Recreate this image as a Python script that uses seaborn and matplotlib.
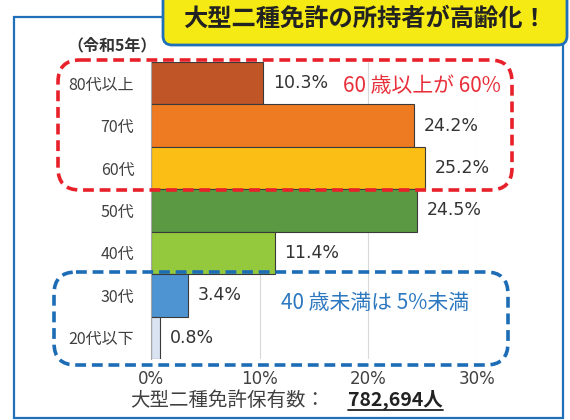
import matplotlib
matplotlib.use("Agg")
import matplotlib.pyplot as plt
import pandas as pd
import seaborn as sns
from matplotlib.patches import FancyBboxPatch, Rectangle

# ----------------------------------------------------------------------------
# Data
# ----------------------------------------------------------------------------
AGE_GROUPS = ["80代以上", "70代", "60代", "50代", "40代", "30代", "20代以下"]
SHARES = [10.3, 24.2, 25.2, 24.5, 11.4, 3.4, 0.8]
BAR_COLORS = ["#c05527", "#ee7b22", "#fbbe15", "#5b9a42", "#94c83d", "#4e94d2", "#dae3f2"]
X_TICKS = [0, 10, 20, 30]

TITLE = "大型二種免許の所持者が高齢化！"
YEAR_NOTE = "（令和5年）"
NOTE_OLD = "60 歳以上が 60%"
NOTE_YOUNG = "40 歳未満は 5%未満"
TOTAL_LABEL = "大型二種免許保有数："
TOTAL_VALUE = "782,694人"

BLUE = "#1f70b8"
GREY_TEXT = "#404040"

sns.set_style("white")
plt.rcParams["font.family"] = ["Noto Sans CJK JP", "DejaVu Sans"]

W, H = 570, 420
fig = plt.figure(figsize=(W / 100, H / 100), dpi=100)

# ----------------------------------------------------------------------------
# Bar chart
# ----------------------------------------------------------------------------
df = pd.DataFrame({"age": AGE_GROUPS, "share": SHARES})

ax = fig.add_axes([151 / W, 1 - 359 / H, 326 / W, 297 / H])
sns.barplot(
    data=df, x="share", y="age", hue="age", palette=BAR_COLORS,
    width=1.0, saturation=1, edgecolor="#3a3a3a", linewidth=0.8,
    legend=False, ax=ax,
)
ax.set_xlim(0, 30)
ax.set_ylim(len(AGE_GROUPS) - 0.5, -0.5)
ax.set_xticks(X_TICKS)
ax.set_xticklabels([f"{t}%" for t in X_TICKS], family="DejaVu Sans",
                   fontsize=12, color=GREY_TEXT)
ax.tick_params(axis="x", length=0, pad=8)
ax.tick_params(axis="y", which="major", length=0, pad=12,
               labelsize=11.5, labelcolor=GREY_TEXT)
ax.set_yticks([i - 0.5 for i in range(len(AGE_GROUPS) + 1)], minor=True)
ax.tick_params(axis="y", which="minor", length=5, color="#c8c8c8", width=0.8)
ax.set_xlabel("")
ax.set_ylabel("")
ax.xaxis.grid(True, color="#d9d9d9", linewidth=0.8)
ax.set_axisbelow(True)
for side in ["top", "right", "bottom"]:
    ax.spines[side].set_visible(False)
ax.spines["left"].set_color("#a6a6a6")

for container in ax.containers:
    ax.bar_label(container, labels=[f"{v}%" for v in container.datavalues],
                 padding=7, family="DejaVu Sans", fontsize=12.5, color="#333333")

# ----------------------------------------------------------------------------
# Decorations (pixel-coordinate overlay)
# ----------------------------------------------------------------------------
ov = fig.add_axes([0, 0, 1, 1], zorder=10)
ov.set_xlim(0, W)
ov.set_ylim(H, 0)
ov.axis("off")
ov.patch.set_alpha(0)

# outer frame
ov.add_patch(Rectangle((14, 17), 549, 401, fill=False, edgecolor=BLUE, linewidth=1.6))

# title box
ov.add_patch(FancyBboxPatch((163, -12), 404, 57, boxstyle="round,pad=0,rounding_size=9",
                            facecolor="#f5ea14", edgecolor=BLUE, linewidth=2))
ov.text(365, 19, TITLE, ha="center", va="center", fontsize=17.5,
        fontweight="bold", color="#222222")

ov.text(112, 45, YEAR_NOTE, ha="center", va="center", fontsize=11.5,
        fontweight="bold", color="#333333")

# dashed highlight boxes
ov.add_patch(FancyBboxPatch((58, 60), 454, 130, boxstyle="round,pad=0,rounding_size=22",
                            fill=False, edgecolor="#e8202a", linewidth=2.6,
                            linestyle=(0, (3, 1.6))))
ov.add_patch(FancyBboxPatch((54, 272), 454, 93, boxstyle="round,pad=0,rounding_size=22",
                            fill=False, edgecolor="#1c6cb6", linewidth=2.6,
                            linestyle=(0, (3, 1.6))))

ov.text(343, 86, NOTE_OLD, ha="left", va="center", fontsize=15, color="#e8303b")
ov.text(281, 303, NOTE_YOUNG, ha="left", va="center", fontsize=15, color="#2e78c0")

# total count with underlined value
ov.text(130, 400, TOTAL_LABEL, ha="left", va="center", fontsize=14, color=GREY_TEXT)
val = ov.text(348, 400, TOTAL_VALUE, ha="left", va="center", fontsize=14,
              fontweight="bold", color="#222222")

fig.canvas.draw()
bb = val.get_window_extent()
inv = ov.transData.inverted()
(x0, _), (x1, _) = inv.transform([(bb.x0, bb.y0), (bb.x1, bb.y0)])
ov.plot([x0, x1], [410, 410], color="#222222", linewidth=1.3)

fig.savefig("out.png", dpi=100)
